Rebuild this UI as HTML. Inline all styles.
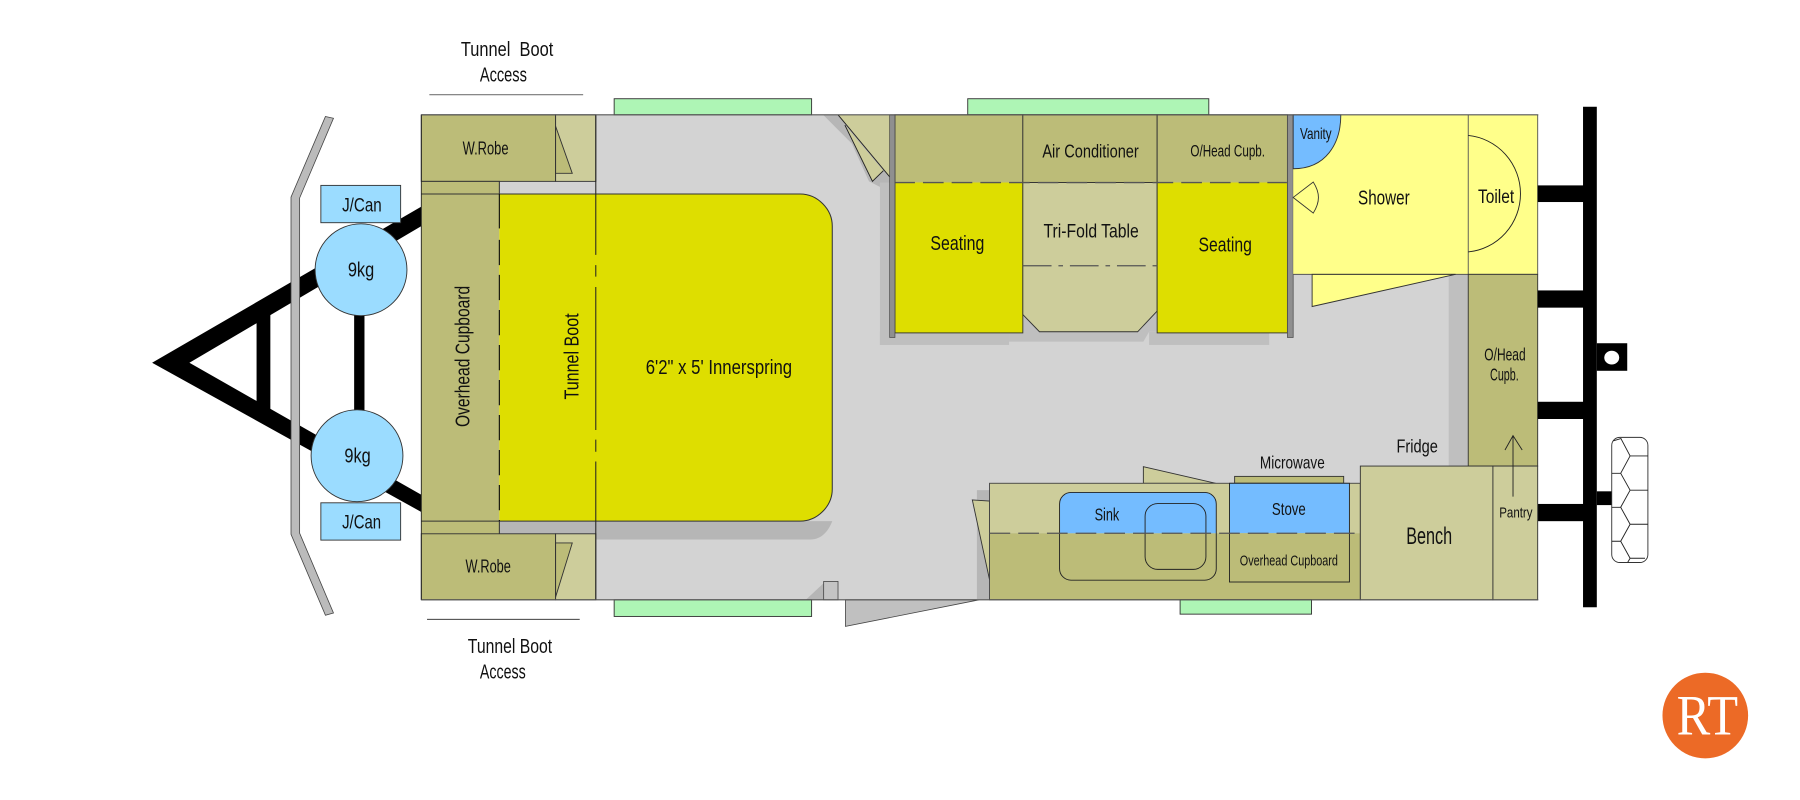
<!DOCTYPE html>
<html>
<head>
<meta charset="utf-8">
<style>
html,body{margin:0;padding:0;background:#fff;width:1800px;height:800px;overflow:hidden}
svg{display:block}
text{font-family:"Liberation Sans",sans-serif;fill:#111;font-weight:normal}
.o{fill:#bcbc78}.l{fill:#cdcd9b}.f{fill:#d3d3d3}.s{fill:#b6b6b6}.y{fill:#dede00}.p{fill:#ffff8a}.b{fill:#74bcff}.c{fill:#9bdcff}.g{fill:#aef5b5}.h{fill:#bfbfbf}
.k{stroke:#333;stroke-width:.8}
.n{fill:none;stroke:#222;stroke-width:.8}
</style>
</head>
<body>
<svg width="1800" height="800" viewBox="0 0 1568 696.9" preserveAspectRatio="none" xmlns="http://www.w3.org/2000/svg">
<!-- A-frame -->
<path d="M132.5 316 L367 180 V197 L165 316 L367 431 V446 Z" fill="#000"/>
<rect x="223.5" y="274" width="12" height="84" fill="#000"/>
<rect x="308.5" y="270" width="9" height="90" fill="#000"/>
<!-- bumper -->
<path d="M283.5 101.5 L290.5 103 L261 172.5 V464.5 L290.5 534 L283.5 536 L253.5 465.4 V171.7 Z" fill="#bbb" stroke="#444" stroke-width=".7"/>
<!-- J/Can & gas -->
<rect x="279.5" y="161.5" width="69.5" height="32.5" class="c k"/>
<rect x="279.5" y="438" width="69.5" height="32.5" class="c k"/>
<circle cx="314.5" cy="235" r="40" class="c k"/>
<circle cx="311" cy="397" r="40" class="c k"/>
<!-- floor -->
<rect x="519" y="100" width="761" height="422.5" class="f"/>
<!-- front end -->
<rect x="435" y="158" width="84" height="307" class="f"/>
<rect x="435" y="454" width="84" height="11" class="s"/>
<path d="M519 454 H725 C722 462 716 470 706 470 H519 Z" class="s"/>
<rect x="367" y="100" width="117" height="58" class="o k"/>
<rect x="484" y="100" width="35" height="58" class="l k"/>
<path d="M484 110 L498.5 151 H484 Z" class="o k"/>
<rect x="367" y="158" width="68" height="11" class="o"/>
<rect x="367" y="169" width="68" height="296" class="o"/>
<path d="M367 158 H435 V169 M367 169 H435 M367 454 H435 M435 454 V465" fill="none" stroke="#333" stroke-width=".9"/>
<rect x="367" y="465" width="117" height="57.5" class="o k"/>
<rect x="484" y="465" width="35" height="57.5" class="l k"/>
<path d="M484 473 H498.5 L484 520 Z" class="o k"/>
<path d="M367 100 V522.5" class="n"/>
<!-- bed -->
<path d="M435 169 H697 C712 169 725 182 725 197 V426 C725 441 712 454 697 454 H435 Z" class="y"/>
<path d="M435 169 H697 C712 169 725 182 725 197 V426 C725 441 712 454 697 454 H435" fill="none" stroke="#333" stroke-width=".9"/>
<path d="M435 169 V199" fill="none" stroke="#111" stroke-width="1"/>
<path d="M435 209 V454" fill="none" stroke="#111" stroke-width="1" stroke-dasharray="22 8.5"/>
<path d="M519 100 V222 M519 231 V241 M519 250 V374.6 M519 383 V393.5 M519 402 V522.5" fill="none" stroke="#222" stroke-width=".9"/>
<!-- top windows -->
<rect x="535" y="86" width="172" height="14" class="g k"/>
<rect x="843" y="86" width="210" height="14" class="g k"/>
<!-- door top -->
<path d="M717 100 H730 L775 154 V167 L757 158 L742 125 Z" class="s"/>
<path d="M730 100 H775 V154 Z" class="l"/>
<path d="M730 100 L775 154" class="n"/>
<path d="M736 109 L760 158 L769.5 148.7 Z" class="l"/>
<path d="M736 109 L760 158 L769.5 148.7" class="n"/>
<!-- dinette shadows -->
<rect x="766.5" y="159" width="8.5" height="141.5" class="h"/>
<rect x="766.5" y="289" width="112.5" height="11.5" class="h"/>
<path d="M879 270 H1008 V289 H1001 L996 297.6 H879 Z" class="h"/>
<rect x="1001" y="289" width="104.6" height="11.5" class="h"/>
<!-- dinette -->
<rect x="779.6" y="100" width="111.4" height="59" class="o"/>
<rect x="779.6" y="159" width="111.4" height="131" class="y"/>
<rect x="779.6" y="100" width="111.4" height="190" fill="none" stroke="#333" stroke-width=".8"/>
<rect x="891" y="100" width="117" height="59" class="o k"/>
<path d="M891 159 H1008 V271 L991 289 H905.5 L891 274 Z" class="l k"/>
<rect x="1008" y="100" width="113.5" height="59" class="o"/>
<rect x="1008" y="159" width="113.5" height="131" class="y"/>
<rect x="1008" y="100" width="113.5" height="190" fill="none" stroke="#333" stroke-width=".8"/>
<path d="M779 159 H1121" fill="none" stroke="#555" stroke-width="1.2" stroke-dasharray="18 7"/>
<path d="M891 231.5 H1008" fill="none" stroke="#555" stroke-width="1" stroke-dasharray="25 6 4 6"/>
<rect x="775" y="100" width="4.6" height="194" fill="#8f8f8f" stroke="#444" stroke-width=".6"/>
<rect x="1121.5" y="100" width="5" height="194" fill="#8f8f8f" stroke="#444" stroke-width=".6"/>
<!-- bathroom -->
<rect x="1262" y="239" width="17" height="167" fill="#bfbfbf"/>
<rect x="1126.5" y="100" width="152.5" height="139" class="p"/>
<rect x="1279" y="100" width="60.5" height="139" class="p"/>
<path d="M1126.5 239 H1339.5 M1279 100 V239 M1339.5 100 V239" fill="none" stroke="#555" stroke-width=".8"/>
<path d="M1143 239 H1268 L1143 267 Z" class="p k"/>
<path d="M1126.5 100 H1168 C1168 125 1155 147 1126.5 147 Z" class="b k"/>
<path d="M1126.5 172 L1144 158.6 C1150 168 1150 176 1144 185.6 Z" class="p k"/>
<path d="M1279 118 A50.5 51 0 0 1 1279 219.5" class="n"/>
<!-- rear cupboard -->
<rect x="1279" y="239" width="60.5" height="167" class="o k"/>
<!-- rear frame -->
<rect x="1379" y="93" width="12" height="436" fill="#000"/>
<rect x="1339.5" y="161.5" width="40" height="14.5" fill="#000"/>
<rect x="1339.5" y="253" width="40" height="15" fill="#000"/>
<rect x="1339.5" y="350" width="40" height="15" fill="#000"/>
<rect x="1339.5" y="439" width="40" height="15" fill="#000"/>
<rect x="1391" y="299" width="26.5" height="24" fill="#000"/>
<ellipse cx="1404" cy="311.5" rx="6.5" ry="6" fill="#fff"/>
<rect x="1391" y="428" width="13" height="12" fill="#000"/>
<!-- spare wheel -->
<rect x="1404" y="381" width="31.5" height="109" rx="7" ry="7" fill="#fff" stroke="#333" stroke-width=".8"/>
<path d="M1405.5 384 L1412 382 L1420 397.2 H1435.5 M1420 397.2 L1411.8 412.3 H1404 M1411.8 412.3 L1420 427 H1435.5 M1420 427 L1411.8 441.9 H1404 M1411.8 441.9 L1420 456.7 H1435.5 M1420 456.7 L1411.8 471.5 H1404 M1411.8 471.5 L1420 486.3 H1433 M1420 486.3 L1418 489.7" class="n"/>
<!-- door bottom -->
<path d="M736.5 522.5 H853 L736.5 545.7 Z" fill="#c0c0c0" stroke="#444" stroke-width=".7"/>
<path d="M702 522.5 L717.5 508 V522.5 Z" class="s"/>
<rect x="717.5" y="506.5" width="12.5" height="16" fill="#c4c4c4" stroke="#444" stroke-width=".7"/>
<!-- kitchen -->
<rect x="851" y="427" width="11" height="95.5" class="s"/>
<path d="M847 435.5 L862 436.5 V505 Z" class="l k"/>
<path d="M996 406.5 L1059 421 H996 Z" class="l k"/>
<rect x="1075.5" y="415" width="95" height="6" class="o k"/>
<rect x="862" y="421" width="323" height="43.5" class="l"/>
<rect x="862" y="464.5" width="323" height="58" class="o"/>
<rect x="862" y="421" width="323" height="101.5" fill="none" stroke="#444" stroke-width=".8"/>
<path d="M923 464.5 V439 A10 10 0 0 1 933 429 H1049.5 A10 10 0 0 1 1059.5 439 V464.5 Z" class="b"/>
<rect x="923" y="429" width="136.5" height="76.4" rx="10" ry="10" class="n"/>
<rect x="997.5" y="438.7" width="53" height="57.3" rx="11" ry="11" class="n"/>
<rect x="1071" y="421" width="104.5" height="43.5" class="b"/>
<rect x="1071" y="464.5" width="104.5" height="42.5" class="o"/>
<rect x="1071" y="421" width="104.5" height="86" class="n"/>
<path d="M862 464.5 H1185" fill="none" stroke="#555" stroke-width="1.1" stroke-dasharray="18 7"/>
<rect x="1185" y="406" width="115.5" height="116.5" class="l k"/>
<rect x="1300.5" y="406" width="39" height="116.5" class="l k"/>
<path d="M1318 432.6 V379.5 M1311 392 L1318 379.5 L1326 392" class="n"/>
<!-- bottom windows -->
<rect x="535" y="522.5" width="172" height="14.5" class="g k"/>
<rect x="1028" y="522.5" width="114.5" height="12.5" class="g k"/>
<!-- walls -->
<path d="M367 100 H1340 M367 522.5 H1340" fill="none" stroke="#555" stroke-width="1"/>
<!-- tunnel lines -->
<path d="M374 82.5 H508" stroke="#777" stroke-width="1"/>
<path d="M372 539.5 H505" stroke="#222" stroke-width=".8"/>
<!-- labels -->
<g>
<text x="401.5" y="49" font-size="18" textLength="80.5" lengthAdjust="spacingAndGlyphs" xml:space="preserve">Tunnel  Boot</text>
<text x="418" y="71" font-size="18" textLength="41" lengthAdjust="spacingAndGlyphs">Access</text>
<text x="407.5" y="569" font-size="18" textLength="73.5" lengthAdjust="spacingAndGlyphs">Tunnel Boot</text>
<text x="418" y="591" font-size="18" textLength="40" lengthAdjust="spacingAndGlyphs">Access</text>
<text x="403" y="134.5" font-size="16" textLength="40" lengthAdjust="spacingAndGlyphs">W.Robe</text>
<text x="405.5" y="498.7" font-size="16" textLength="39.5" lengthAdjust="spacingAndGlyphs">W.Robe</text>
<text x="298" y="184.4" font-size="17" textLength="34.5" lengthAdjust="spacingAndGlyphs">J/Can</text>
<text x="298" y="460.5" font-size="17" textLength="34" lengthAdjust="spacingAndGlyphs">J/Can</text>
<text x="303" y="241" font-size="18" textLength="23" lengthAdjust="spacingAndGlyphs">9kg</text>
<text x="300" y="403" font-size="18" textLength="23" lengthAdjust="spacingAndGlyphs">9kg</text>
<text transform="translate(409 372) rotate(-90)" x="0" y="0" font-size="18" textLength="123" lengthAdjust="spacingAndGlyphs">Overhead Cupboard</text>
<text transform="translate(504 348) rotate(-90)" x="0" y="0" font-size="18" textLength="75" lengthAdjust="spacingAndGlyphs">Tunnel Boot</text>
<text x="562.5" y="326" font-size="18" textLength="127.5" lengthAdjust="spacingAndGlyphs">6'2" x 5' Innerspring</text>
<text x="810.5" y="218" font-size="18" textLength="47" lengthAdjust="spacingAndGlyphs">Seating</text>
<text x="1044" y="219" font-size="18" textLength="46.5" lengthAdjust="spacingAndGlyphs">Seating</text>
<text x="908" y="137" font-size="16" textLength="84" lengthAdjust="spacingAndGlyphs">Air Conditioner</text>
<text x="1037" y="136.3" font-size="14.5" textLength="65" lengthAdjust="spacingAndGlyphs">O/Head Cupb.</text>
<text x="909" y="207" font-size="17" textLength="83" lengthAdjust="spacingAndGlyphs">Tri-Fold Table</text>
<text x="1132.5" y="121" font-size="13.5" textLength="27.5" lengthAdjust="spacingAndGlyphs">Vanity</text>
<text x="1183" y="178" font-size="18" textLength="45" lengthAdjust="spacingAndGlyphs">Shower</text>
<text x="1287.5" y="177" font-size="17" textLength="31.5" lengthAdjust="spacingAndGlyphs">Toilet</text>
<text x="1293" y="314" font-size="15" textLength="36" lengthAdjust="spacingAndGlyphs">O/Head</text>
<text x="1298" y="331.5" font-size="15" textLength="25" lengthAdjust="spacingAndGlyphs">Cupb.</text>
<text x="1216.5" y="394.3" font-size="16" textLength="36" lengthAdjust="spacingAndGlyphs">Fridge</text>
<text x="1097.5" y="408" font-size="15" textLength="56.5" lengthAdjust="spacingAndGlyphs">Microwave</text>
<text x="1108" y="448.5" font-size="15" textLength="29.5" lengthAdjust="spacingAndGlyphs">Stove</text>
<text x="953.5" y="453.5" font-size="15" textLength="21.5" lengthAdjust="spacingAndGlyphs">Sink</text>
<text x="1080" y="492.6" font-size="13" textLength="85.5" lengthAdjust="spacingAndGlyphs">Overhead Cupboard</text>
<text x="1225" y="474" font-size="21" textLength="40" lengthAdjust="spacingAndGlyphs">Bench</text>
<text x="1306" y="451" font-size="13" textLength="29" lengthAdjust="spacingAndGlyphs">Pantry</text>
</g>
<!-- logo -->
<circle cx="1485.5" cy="623.3" r="37.3" fill="#ec6a26"/>
<text x="1460.5" y="640" font-size="50" textLength="53.5" lengthAdjust="spacingAndGlyphs" style="font-family:'Liberation Serif',serif;fill:#fff">RT</text>
</svg>
</body>
</html>
